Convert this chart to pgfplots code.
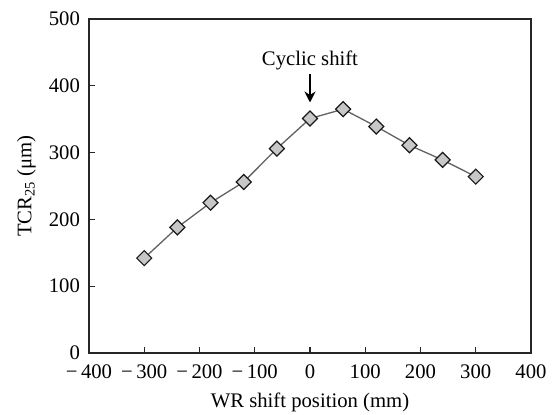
\documentclass[border=0pt]{standalone}
\usepackage{fontspec}
\setmainfont{Liberation Serif}
\usepackage{pgfplots}
\pgfplotsset{compat=1.18}
\usetikzlibrary{arrows.meta}

\begin{document}
\begin{tikzpicture}
\fontsize{20.7}{24}\selectfont
\begin{axis}[
  width=442pt, height=334pt,
  scale only axis,
  xmin=-400, xmax=400,
  ymin=0, ymax=500,
  xtick={-400,-300,...,400},
  xticklabels={−\,400,−\,300,−\,200,−\,100,0,100,200,300,400},
  ytick={0,100,...,500},
  tick pos=left,
  tick align=inside,
  major tick length=6pt,
  axis line style={line width=1.2pt, black!85},
  tick style={line width=1.2pt, black!85},
  /pgf/number format/assume math mode=true,
  ticklabel style={font=\fontsize{20.7}{24}\selectfont},
  yticklabel style={xshift=-2pt},
  xticklabel style={yshift=-5pt},
  label style={font=\fontsize{20.7}{24}\selectfont},
  xlabel={WR shift position (mm)},
  ylabel={TCR\textsubscript{25} (μm)},
  xlabel style={yshift=0pt},
  ylabel style={yshift=-1pt},
  clip=false,
]
  % TCR25 vs work roll shift position
  \addplot[line width=1.3pt, black!62,
    mark=square*, mark size=5.3pt,
    mark options={rotate=45, fill=black!22, draw=black!90, line width=1.2pt}]
    coordinates {(-300,142) (-240,188) (-180,225) (-120,256) (-60,306)
                 (0,351) (60,365) (120,339) (180,311) (240,289) (300,264)};

  \node[anchor=base] at (axis cs:0,430) {Cyclic shift};
  \draw[-{Stealth[length=11pt,width=11pt]}, line width=1.8pt] (axis cs:0,418) -- (axis cs:0,375);

  \coordinate (bl) at (rel axis cs:0,0);
  \coordinate (tr) at (rel axis cs:1,1);
\end{axis}
\pgfresetboundingbox
\path[use as bounding box] ([shift={(-89pt,-61pt)}]bl) rectangle ([shift={(21pt,19pt)}]tr);
\end{tikzpicture}
\end{document}
